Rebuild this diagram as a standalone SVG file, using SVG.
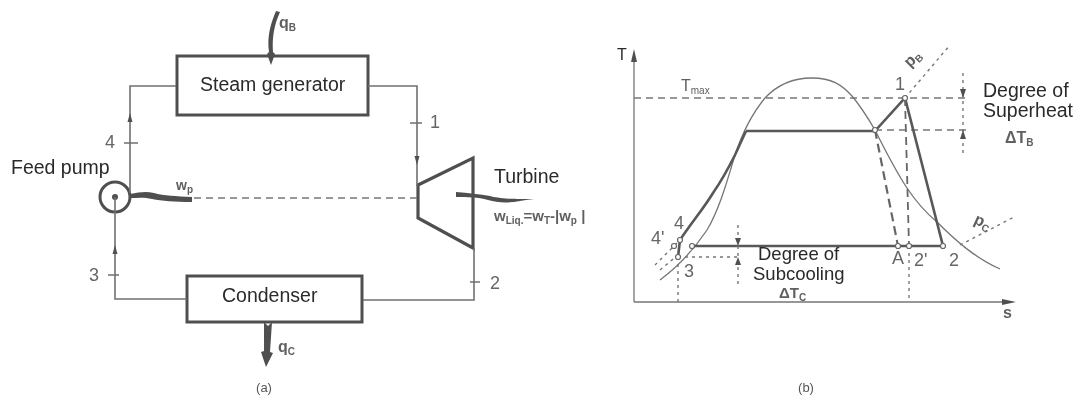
<svg xmlns="http://www.w3.org/2000/svg" width="1078" height="397" viewBox="0 0 1078 397">
<style>
text{font-family:"Liberation Sans",Arial,sans-serif;fill:#2a2a2a}
.big{font-size:19.5px}
.mid{font-size:18.5px}
.num{font-size:18px;fill:#666}
.sym{font-size:16px;fill:#606060;font-weight:bold}
.sub{font-size:10px}
.box{fill:#fff;stroke:#505050;stroke-width:3}
.pipe{fill:none;stroke:#707070;stroke-width:1.6}
.thick{fill:none;stroke:#585858;stroke-width:2.6}
.thin{fill:none;stroke:#757575;stroke-width:1.3}
.dash{fill:none;stroke:#777;stroke-width:1.4;stroke-dasharray:7 5}
.dot{fill:none;stroke:#777;stroke-width:1.4;stroke-dasharray:3 4}
.hd{fill:#505050;stroke:none}
.pt{fill:#fff;stroke:#666;stroke-width:1.2}
</style>
<defs><filter id="soft" x="-2%" y="-2%" width="104%" height="104%"><feGaussianBlur stdDeviation="0.4"/></filter></defs>
<rect width="1078" height="397" fill="#fff"/>
<g filter="url(#soft)">
<g id="steam-generator"><rect class="box" x="177" y="56" width="191" height="59"/><text class="big" x="200" y="91">Steam generator</text></g>
<g id="condenser"><rect class="box" x="187" y="276" width="175" height="46"/><text class="big" x="222" y="302">Condenser</text></g>
<g id="feed-pump"><circle cx="115" cy="197" r="15" fill="none" stroke="#505050" stroke-width="3"/><circle cx="115" cy="197" r="3" fill="#505050"/><text class="big" x="11" y="174">Feed pump</text></g>
<g id="turbine"><path d="M418 185L473 158V248L418 218Z" fill="none" stroke="#505050" stroke-width="3.200"/><text class="big" x="494" y="183">Turbine</text></g>
<g id="connectors">
<path class="pipe" d="M176 86H130V193"/>
<path class="pipe" d="M115 197V299H187"/>
<path class="pipe" d="M368 86H417V186"/>
<path class="pipe" d="M474 248V300H363"/>
<path class="pipe" d="M124 143h14M108 275h11M410 123h12M470 282h10"/>
<path class="hd" d="M130 113l2.500 9h-5zM115 245l2.500 9h-5zM417 165l-2.500-9h5z"/>
<path class="dash" d="M194 198H417"/>
<path class="hd" d="M130 194c10-2 16-3 24-1 10 3 22 3 38 4v5c-18 0-30-1-40-3-8-2-14-1-22-1z"/>
<path class="hd" d="M456 192c12 1 24 2 34 4 12 3 20 3 44 3l-8 1-12 2c-12 1-18 0-26-2-10-3-20-3-32-3z"/>
<path class="hd" d="M276 11c-6 14-9 26-7 41l-2 2 4 11 4-11-2-2c-1-14 1-27 7-40z"/>
<path class="hd" d="M264 322l4 4 4-4-2 30 3 1-7 14-5-15 3-1z"/>
</g>
<g id="labels-a">
<text class="num" x="105" y="148">4</text>
<text class="num" x="89" y="281">3</text>
<text class="num" x="430" y="128">1</text>
<text class="num" x="490" y="289">2</text>
<text class="sym" x="279" y="28">q<tspan class="sub" dy="3">B</tspan></text>
<text class="sym" x="278" y="352">q<tspan class="sub" dy="3">C</tspan></text>
<text class="sym" x="176" y="190" style="font-size:14px">w<tspan class="sub" dy="3">p</tspan></text>
<text class="sym" x="494" y="221" style="font-size:15px">w<tspan class="sub" dy="3">Liq.</tspan><tspan dy="-3">=w</tspan><tspan class="sub" dy="3">T</tspan><tspan dy="-3">-|w</tspan><tspan class="sub" dy="3">p</tspan><tspan dy="-3"> |</tspan></text>
<text x="264" y="392" font-size="13" style="fill:#555" text-anchor="middle">(a)</text>
</g>
<g id="ts-diagram">
<path class="thin" d="M634 302V56M634 302H1006" stroke-width="1.600"/>
<path class="hd" d="M634 49l3 13h-6zM1016 302l-14 3v-6z"/>
<path class="thin" d="M660 280C680 265 697 245 707 230C720 208 728 178 735 155C745 125 755 110 765 98C778 84 795 78 812 78C832 78 842 85 852 96C862 108 868 118 875 130C885 150 895 170 907 188C915 200 925 212 937 222C955 240 975 258 1000 269"/>
<path class="dash" d="M634 98H968M875 130H970" stroke-width="1.300"/>
<path class="thick" d="M746 131H875L905 98L943 246H692"/>
<path class="thick" d="M678 257L680 240C692 222 704 208 713 193C722 180 730 165 735 155L746 131"/>
<path d="M875 130L898 246" fill="none" stroke="#666" stroke-width="2.200" stroke-dasharray="9 5"/>
<path d="M905 98L909 246" fill="none" stroke="#666" stroke-width="1.800" stroke-dasharray="8 5"/>
<path class="dot" d="M909 246V302M678 257V302M678 257H738M738 225V285M963 73V155"/>
<path class="dot" d="M905 98L950 45M960 245L1016 216M655 265L680 240M660 270L678 255"/>
<path class="hd" d="M738 246l-3-8h6zM738 257l-3 8h6zM963 98l-3-9h6zM963 130l-3 9h6z"/>
<circle class="pt" cx="692" cy="246" r="2.500"/><circle class="pt" cx="898" cy="246" r="2.500"/><circle class="pt" cx="909" cy="246" r="2.500"/><circle class="pt" cx="943" cy="246" r="2.500"/><circle class="pt" cx="875" cy="130" r="2.500"/><circle class="pt" cx="905" cy="98" r="2.500"/><circle class="pt" cx="680" cy="240" r="2.500"/><circle class="pt" cx="674" cy="246" r="2.500"/><circle class="pt" cx="678" cy="257" r="2.500"/>
<text class="mid" x="758" y="260">Degree of</text>
<text class="mid" x="753" y="280">Subcooling</text>
<text class="big"><tspan x="983" y="97">Degree of</tspan><tspan x="983" y="117">Superheat</tspan></text>
<text x="617" y="60" font-size="16">T</text>
<text class="sym" x="681" y="91" style="font-weight:normal">T<tspan class="sub" dy="3">max</tspan></text>
<text class="sym" x="779" y="298" style="font-size:15px">ΔT<tspan class="sub" dy="3">C</tspan></text>
<text class="sym" x="1005" y="143">ΔT<tspan class="sub" dy="3">B</tspan></text>
<text class="num" x="895" y="90">1</text>
<text class="num" x="674" y="229">4</text>
<text class="num" x="651" y="244">4'</text>
<text class="num" x="684" y="277">3</text>
<text class="num" x="892" y="264">A</text>
<text class="num" x="914" y="266">2'</text>
<text class="num" x="949" y="266">2</text>
<text class="sym" x="1003" y="318">s</text>
<text class="sym" transform="translate(910 68) rotate(-45)">p<tspan class="sub" dy="3">B</tspan></text>
<text class="sym" transform="translate(973 223) rotate(25)">p<tspan class="sub" dy="3">C</tspan></text>
<text x="806" y="392" font-size="13" style="fill:#555" text-anchor="middle">(b)</text>
</g>
</g>
</svg>
